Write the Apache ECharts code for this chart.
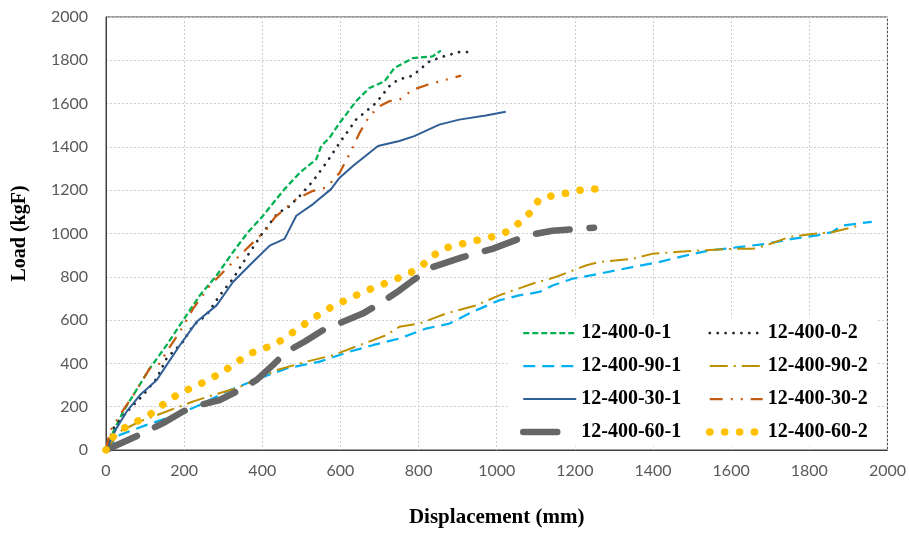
<!DOCTYPE html>
<html>
<head>
<meta charset="utf-8">
<script src="https://cdn.jsdelivr.net/npm/echarts@6/dist/echarts.min.js"></script>
<style>
html,body{margin:0;padding:0;background:#fff;}
#chart{width:909px;height:533px;}
</style>
</head>
<body>
<div id="chart"></div>
<script>
// Displacement (mm), Load (kgF) pairs
const s0_1 = [[0,0],[19,86],[44,178],[70,254],[112,377],[155,484],[206,622],[240,714],[283,806],[325,914],[363,1005],[402,1082],[436,1159],[457,1205],[496,1281],[538,1343],[551,1404],[572,1442],[598,1511],[640,1611],[674,1672],[713,1703],[738,1764],[785,1810],[836,1818],[857,1845]];
const s0_2 = [[0,0],[19,101],[50,170],[95,254],[130,331],[155,423],[197,500],[223,576],[257,622],[291,714],[325,791],[368,914],[400,1000],[425,1060],[440,1095],[466,1120],[496,1174],[530,1243],[564,1327],[598,1419],[640,1526],[691,1603],[725,1680],[747,1710],[785,1729],[802,1756],[828,1795],[862,1817],[904,1838],[930,1838]];
const s90_1 = [[0,0],[36,70],[104,116],[181,162],[240,208],[308,270],[393,331],[462,377],[547,408],[623,454],[683,484],[751,515],[819,561],[879,584],[938,638],[1006,691],[1057,714],[1109,730],[1143,760],[1194,791],[1262,814],[1347,845],[1415,868],[1483,898],[1543,921],[1619,937],[1688,952],[1756,975],[1824,993],[1858,1006],[1883,1036],[1960,1054]];
const s90_2 = [[0,0],[36,86],[87,132],[155,178],[223,224],[274,254],[334,285],[393,331],[436,369],[513,408],[581,438],[649,484],[717,530],[751,569],[802,584],[870,630],[947,668],[1006,714],[1091,768],[1151,799],[1228,852],[1262,868],[1347,883],[1398,906],[1466,916],[1517,921],[1602,929],[1654,929],[1688,944],[1747,983],[1807,998],[1858,1006],[1892,1021],[1926,1036]];
const s30_1 = [[0,0],[27,101],[53,178],[87,254],[130,323],[155,392],[189,484],[232,592],[283,668],[325,776],[376,868],[419,944],[457,975],[487,1082],[530,1136],[576,1205],[598,1258],[632,1312],[696,1404],[751,1427],[789,1450],[853,1503],[904,1526],[972,1545],[1023,1562]];
const s30_2 = [[0,0],[10,86],[36,162],[70,254],[112,377],[138,400],[155,454],[189,546],[223,653],[266,760],[325,868],[368,944],[410,1017],[432,1074],[462,1120],[487,1159],[530,1197],[564,1212],[598,1281],[623,1366],[649,1465],[674,1542],[700,1588],[725,1611],[751,1618],[785,1664],[823,1687],[870,1710],[909,1729]];
const s60_1 = [[0,0],[95,78],[146,124],[197,178],[240,208],[291,231],[342,277],[385,323],[427,392],[462,454],[508,500],[555,553],[657,630],[700,676],[751,737],[785,783],[836,845],[913,891],[989,929],[1083,993],[1143,1013],[1249,1027]];
const s60_2 = [[0,0],[19,63],[53,109],[87,139],[125,178],[155,224],[189,262],[227,293],[261,323],[300,362],[334,405],[368,446],[402,466],[440,497],[474,538],[508,581],[542,622],[578,661],[615,694],[653,725],[690,753],[727,778],[764,806],[802,840],[832,891],[866,932],[904,949],[945,967],[985,983],[1023,1006],[1056,1047],[1086,1097],[1109,1159],[1147,1177],[1187,1189],[1226,1205],[1268,1205]];

const names = ['12-400-0-1','12-400-0-2','12-400-90-1','12-400-90-2','12-400-30-1','12-400-30-2','12-400-60-1','12-400-60-2'];
const datasets = [s0_1, s0_2, s90_1, s90_2, s30_1, s30_2, s60_1, s60_2];
const styles = [
  {color:'#00B050', width:2.25, type:[6,3], cap:'butt'},
  {color:'#222833', width:2.75, type:[0.1,7.8], cap:'round'},
  {color:'#00B0F0', width:2.25, type:[12,7], cap:'butt'},
  {color:'#BF9000', width:2, type:[18,6,2,6], cap:'butt'},
  {color:'#2F5F96', width:2, type:'solid', cap:'butt'},
  {color:'#C55A11', width:2.25, type:[13,8,2,8,2,8], cap:'butt'},
  {color:'#666666', width:6.5, type:[34,20], cap:'round'},
  {color:'#FFC000', width:7.5, type:[0.1,14.8], cap:'round'}
];

const series = names.map((n,i)=>({
  name:n, type:'line', data:datasets[i], symbol:'none', showSymbol:false,
  smooth:false, animation:false,
  itemStyle:{color:styles[i].color},
  lineStyle:{color:styles[i].color, width:styles[i].width, type:styles[i].type, cap:styles[i].cap, join:'round'}
}));

function legendItem(i){
  return {
    name:names[i],
    itemStyle:{color:'rgba(0,0,0,0)', borderWidth:0, opacity:0},
    lineStyle:{color:styles[i].color, width:styles[i].width, type:styles[i].type, cap:styles[i].cap, opacity:1}
  };
}

const legendText = {fontFamily:'Liberation Serif', fontWeight:'bold', fontSize:20, color:'#000', lineHeight:20};
const chart = echarts.init(document.getElementById('chart'), null, {renderer:'canvas'});
chart.setOption({
  animation:false,
  backgroundColor:'#fff',
  grid:{left:106, right:20, top:17, bottom:81, show:true, borderColor:'#404040', borderWidth:1, backgroundColor:'transparent'},
  xAxis:{
    type:'value', min:0, max:2000, interval:200,
    name:'Displacement (mm)', nameLocation:'middle', nameGap:57,
    nameTextStyle:{fontFamily:'Liberation Serif', fontWeight:'bold', fontSize:21, color:'#000'},
    axisLine:{show:true, lineStyle:{color:'#404040', width:1}},
    axisTick:{show:false},
    axisLabel:{fontFamily:'Lato', fontSize:16, color:'#595959', margin:13, formatter:v=>String(v)},
    splitLine:{show:true, lineStyle:{color:'#cfcfcf', width:1, type:[2,2]}}
  },
  yAxis:{
    type:'value', min:0, max:2000, interval:200,
    name:'Load (kgF)', nameLocation:'middle', nameGap:76,
    nameTextStyle:{fontFamily:'Liberation Serif', fontWeight:'bold', fontSize:20, color:'#000'},
    axisLine:{show:true, lineStyle:{color:'#404040', width:1}},
    axisTick:{show:false},
    axisLabel:{fontFamily:'Lato', fontSize:16, color:'#595959', margin:18, formatter:v=>String(v)},
    splitLine:{show:true, lineStyle:{color:'#cfcfcf', width:1, type:[2,2]}}
  },
  legend:[
    {data:[0,2,4,6].map(legendItem), orient:'vertical', left:510, top:318,
     padding:[5,12,4,10], itemGap:13, itemWidth:53, itemHeight:14, backgroundColor:'#fff',
     selectedMode:false, textStyle:legendText},
    {data:[1,3,5,7].map(legendItem), orient:'vertical', left:690, top:318,
     padding:[5,10,4,16], itemGap:13, itemWidth:53, itemHeight:14, backgroundColor:'#fff',
     selectedMode:false, textStyle:legendText}
  ],
  series:series
});
</script>
</body>
</html>
